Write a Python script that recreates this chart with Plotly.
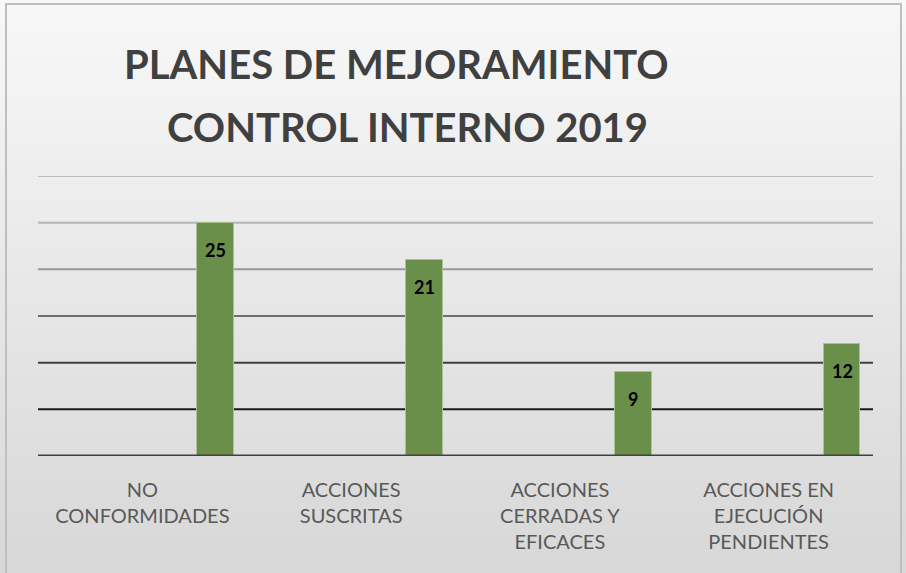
import plotly.graph_objects as go

W, H = 906, 573
ML, MR, MT, MB = 38, 33, 176, 117

categories = ["NO<br>CONFORMIDADES", "ACCIONES<br>SUSCRITAS",
              "ACCIONES<br>CERRADAS Y<br>EFICACES", "ACCIONES EN<br>EJECUCIÓN<br>PENDIENTES"]
values = [25, 21, 9, 12]
title_lines = ["PLANES DE MEJORAMIENTO", "CONTROL INTERNO 2019"]
grid_values = [5, 10, 15, 20, 25, 30]
grid_colors = ["#1a1a1a", "#3f3f3f", "#6f6f6f", "#999999", "#b5b5b5", "#bdbdbd"]

pw, ph = W - ML - MR, H - MT - MB
def px(x): return (x - ML) / pw
def py(y): return (H - MB - y) / ph

BAR_W = 0.177
BAR_OFF = 0.263

fig = go.Figure()
fig.add_trace(go.Bar(
    x=categories, y=values, width=BAR_W, offset=BAR_OFF,
    marker=dict(color="#6a8f4b", line=dict(color="#a8c38e", width=1)),
    hoverinfo="skip"))

shapes = []
# background gradient
N = 60
c0, c1 = (0xf8, 0xf8, 0xf8), (0xd8, 0xd8, 0xd8)
for i in range(N):
    t = i / (N - 1)
    c = tuple(int(c0[k] + (c1[k] - c0[k]) * t) for k in range(3))
    y0p, y1p = H * i / N, H * (i + 1) / N + 1
    shapes.append(dict(type="rect", xref="paper", yref="paper", layer="below",
                       x0=px(0), x1=px(W), y0=py(y1p), y1=py(y0p),
                       fillcolor="rgb(%d,%d,%d)" % c, line=dict(width=0)))
# border
shapes.append(dict(type="rect", xref="paper", yref="paper", layer="above",
                   x0=px(6), x1=px(901), y0=py(580), y1=py(4),
                   fillcolor="rgba(0,0,0,0)", line=dict(color="#bfbfbf", width=2)))
# gridlines
for gv, gc in zip(grid_values, grid_colors):
    shapes.append(dict(type="line", xref="paper", yref="y", layer="below",
                       x0=0, x1=1, y0=gv, y1=gv, line=dict(color=gc, width=2)))
shapes.append(dict(type="line", xref="paper", yref="y", layer="above",
                   x0=0, x1=1, y0=0, y1=0, line=dict(color="#404040", width=3)))

annotations = []
for i, line in enumerate(title_lines):
    annotations.append(dict(text="<b>%s</b>" % line, xref="paper", yref="paper",
                            x=px([396, 407][i]), y=py([64, 127][i]), xanchor="center", yanchor="middle",
                            showarrow=False, font=dict(family="Lato", size=40, color="#404040")))
cat_px = pw / len(categories)
for c, v in zip(categories, values):
    annotations.append(dict(text="<b>%d</b>" % v, x=c, y=v, xref="x", yref="y",
                            xanchor="center", yanchor="top", yshift=-14,
                            xshift=(BAR_OFF + BAR_W / 2) * cat_px,
                            showarrow=False, font=dict(family="Lato", size=18, color="#000000")))

fig.update_layout(
    width=W, height=H, margin=dict(l=ML, r=MR, t=MT, b=MB),
    paper_bgcolor="#eeeeee", plot_bgcolor="rgba(0,0,0,0)",
    showlegend=False, shapes=shapes, annotations=annotations, bargap=0,
    xaxis=dict(showgrid=False, showline=False, ticks="", ticklabelstandoff=20,
               tickfont=dict(family="Lato", size=20, color="#595959")),
    yaxis=dict(range=[0, 30], showgrid=False, zeroline=False, showticklabels=False,
               showline=False),
)
fig.write_html("out.html", config={"displayModeBar": False},
               post_script="document.body.style.margin='0';")
